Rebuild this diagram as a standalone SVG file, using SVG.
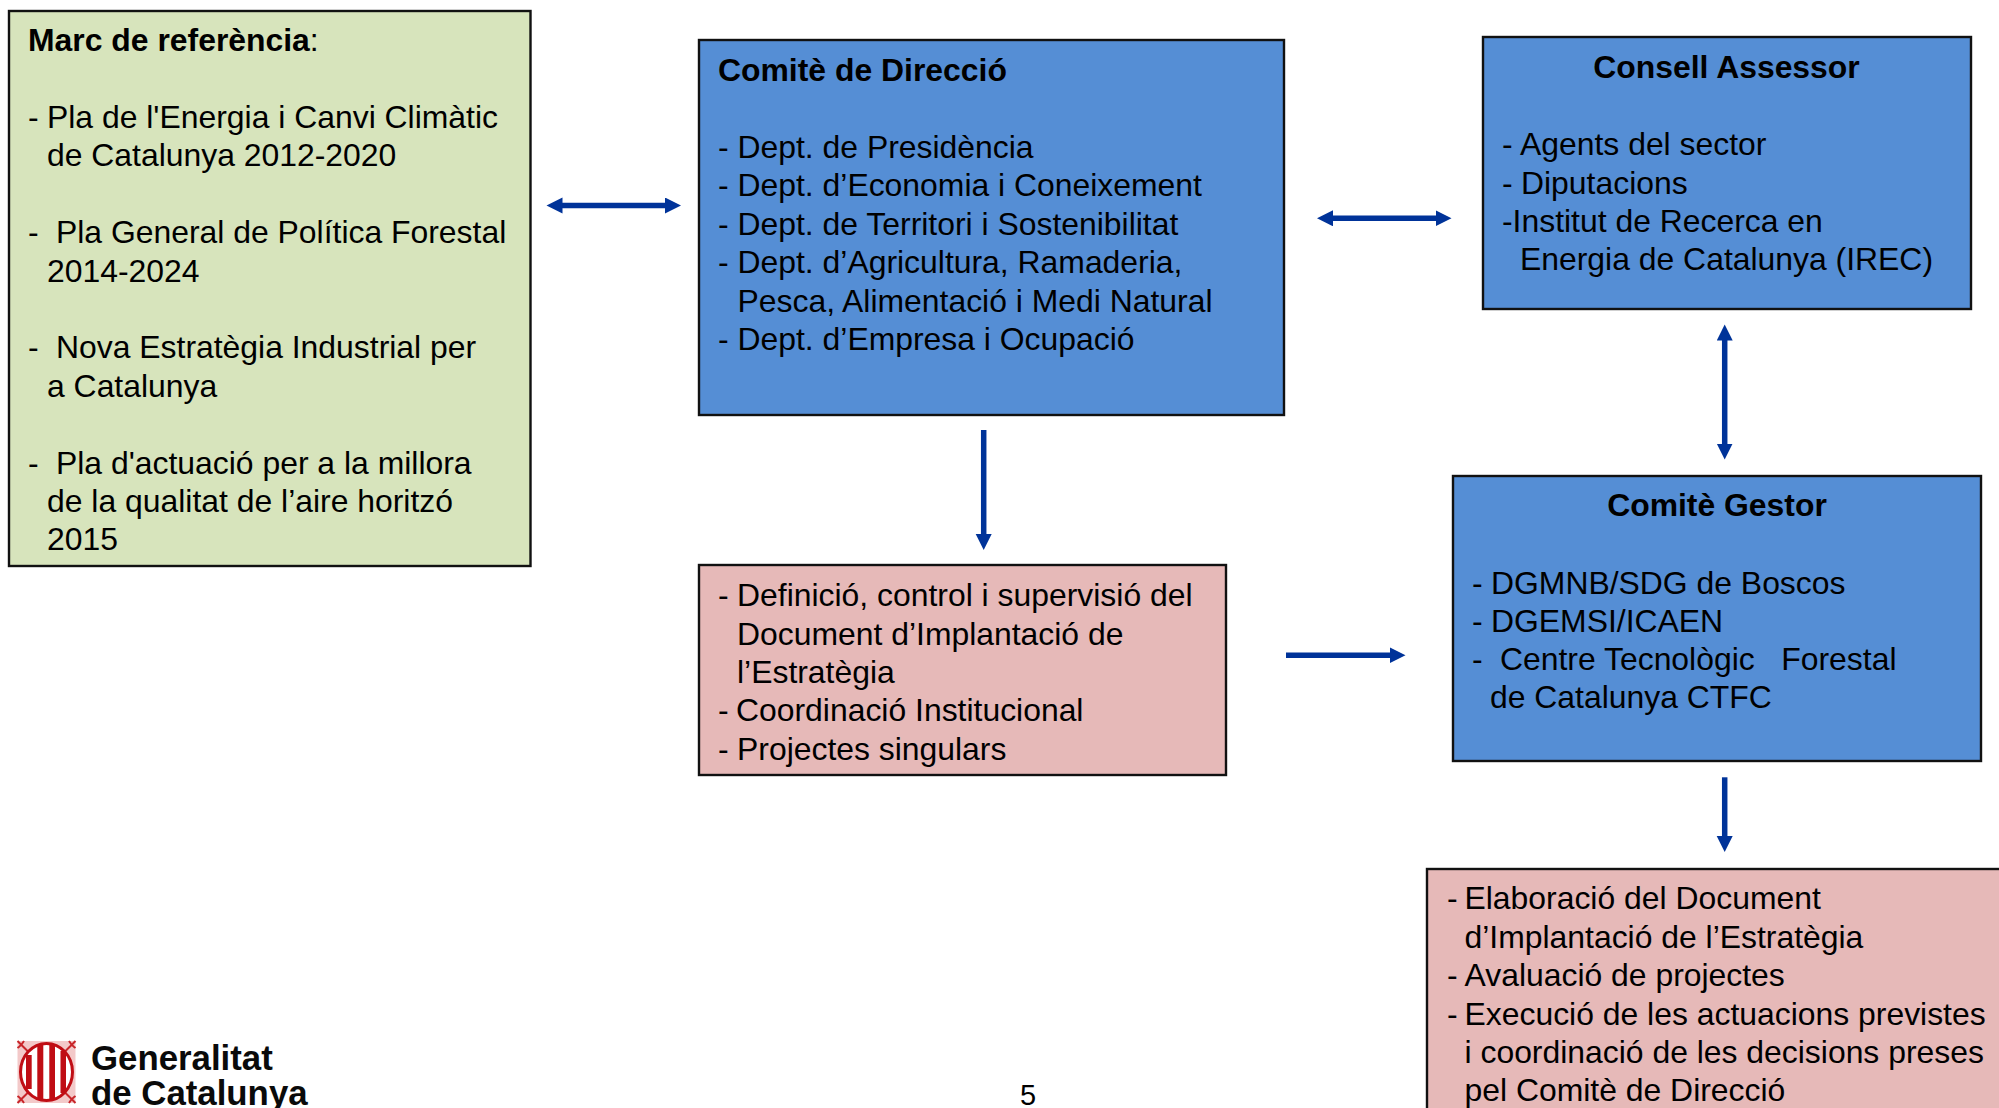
<svg xmlns="http://www.w3.org/2000/svg" width="1999" height="1108" viewBox="0 0 1999 1108">
<style>
text{font-family:"Liberation Sans",Arial,sans-serif;font-size:31.9px;fill:#000}
.b{font-weight:700}
.box{stroke:#111;stroke-width:2.4}
.green{fill:#d7e4bc}.blue{fill:#558ed5}.pink{fill:#e6b9b8}
.c{fill:none;stroke:#003399;stroke-width:5.5}
text.lg{font-weight:700;font-size:34.8px;fill:#0a0a0a}
</style>
<defs>
<marker id="ah" markerUnits="userSpaceOnUse" markerWidth="18" markerHeight="18" refX="1" refY="8" orient="auto-start-reverse"><path d="M0 0L16 8L0 16Z" fill="#003399"/></marker>
</defs>
<rect width="1999" height="1108" fill="#fff"/>
<g id="marc">
<rect class="box green" x="9" y="11" width="521.500" height="555"/>
<text x="28" y="51"><tspan class="b">Marc de referència</tspan>:</text>
<text x="28" y="128">-</text><text x="47" y="128">Pla de l'Energia i Canvi Climàtic</text>
<text x="47" y="166">de Catalunya 2012-2020</text>
<text x="28" y="243">-</text><text x="56" y="243">Pla General de Política Forestal</text>
<text x="47" y="282">2014-2024</text>
<text x="28" y="358">-</text><text x="56" y="358">Nova Estratègia Industrial per</text>
<text x="47" y="397">a Catalunya</text>
<text x="28" y="474">-</text><text x="56" y="474">Pla d'actuació per a la millora</text>
<text x="47" y="512">de la qualitat de l’aire horitzó</text>
<text x="47" y="550">2015</text>
</g>
<g id="direccio">
<rect class="box blue" x="699" y="40" width="585" height="375"/>
<text class="b" x="718" y="81">Comitè de Direcció</text>
<text x="718" y="158">-</text><text x="737.500" y="158">Dept. de Presidència</text>
<text x="718" y="196">-</text><text x="737.500" y="196">Dept. d’Economia i Coneixement</text>
<text x="718" y="235">-</text><text x="737.500" y="235">Dept. de Territori i Sostenibilitat</text>
<text x="718" y="273">-</text><text x="737.500" y="273">Dept. d’Agricultura, Ramaderia,</text>
<text x="737.500" y="312">Pesca, Alimentació i Medi Natural</text>
<text x="718" y="350">-</text><text x="737.500" y="350">Dept. d’Empresa i Ocupació</text>
</g>
<g id="assessor">
<rect class="box blue" x="1483" y="37" width="488" height="272"/>
<text class="b" x="1726.500" y="78" text-anchor="middle">Consell Assessor</text>
<text x="1502" y="155">-</text><text x="1520" y="155">Agents del sector</text>
<text x="1502" y="194">-</text><text x="1521" y="194">Diputacions</text>
<text x="1502" y="232">-Institut de Recerca en</text>
<text x="1520" y="270">Energia de Catalunya (IREC)</text>
</g>
<g id="gestor">
<rect class="box blue" x="1453" y="476" width="528" height="285"/>
<text class="b" x="1717" y="516" text-anchor="middle">Comitè Gestor</text>
<text x="1472" y="593.500">-</text><text x="1491" y="593.500">DGMNB/SDG de Boscos</text>
<text x="1472" y="631.500">-</text><text x="1491" y="631.500">DGEMSI/ICAEN</text>
<text x="1472" y="670">-</text><text x="1500" y="670" xml:space="preserve">Centre Tecnològic   Forestal</text>
<text x="1490" y="708">de Catalunya CTFC</text>
</g>
<g id="funcions-direccio">
<rect class="box pink" x="699" y="565" width="527" height="210"/>
<text x="718" y="606">-</text><text x="737" y="606">Definició, control i supervisió del</text>
<text x="737" y="645">Document d’Implantació de</text>
<text x="737" y="683">l’Estratègia</text>
<text x="718" y="721">-</text><text x="736" y="721">Coordinació Institucional</text>
<text x="718" y="760">-</text><text x="737" y="760">Projectes singulars</text>
</g>
<g id="funcions-gestor">
<rect class="box pink" x="1427" y="869" width="590" height="260"/>
<text x="1447" y="909">-</text><text x="1464.500" y="909">Elaboració del Document</text>
<text x="1464.500" y="948">d’Implantació de l’Estratègia</text>
<text x="1447" y="986">-</text><text x="1464.500" y="986">Avaluació de projectes</text>
<text x="1447" y="1025">-</text><text x="1464.500" y="1025">Execució de les actuacions previstes</text>
<text x="1464.500" y="1063">i coordinació de les decisions preses</text>
<text x="1464.500" y="1101">pel Comitè de Direcció</text>
</g>
<g id="connectors">
<path class="c" d="M561.500 205.500H666" marker-start="url(#ah)" marker-end="url(#ah)"/>
<path class="c" d="M1332 218.300H1436.500" marker-start="url(#ah)" marker-end="url(#ah)"/>
<path class="c" d="M1724.700 339.500V444.500" marker-start="url(#ah)" marker-end="url(#ah)"/>
<path class="c" d="M983.700 430V535" marker-end="url(#ah)"/>
<path class="c" d="M1286 655.300H1390.500" marker-end="url(#ah)"/>
<path class="c" d="M1724.700 777.300V837" marker-end="url(#ah)"/>
</g>
<g id="logo">
<rect x="17.500" y="1041" width="58" height="62" fill="#f3c9c9"/>
<path d="M17.500 1041l14 14M75.500 1041l-14 14M17.500 1103l14-14M75.500 1103l-14-14M24 1041c-3 5-4 5-6.500 7M69 1041c3 5 4 5 6.500 7M24 1103c-3-5-4-5-6.500-7M69 1103c3-5 4-5 6.500-7" fill="none" stroke="#c8262a" stroke-width="2"/>
<ellipse cx="46.500" cy="1072" rx="26" ry="28.500" fill="#fff" stroke="#c00d14" stroke-width="3"/>
<path d="M26 1055h5.700v34h-5.700zM37.300 1044.500h6v55h-6zM49.300 1044.500h5.700v55h-5.700zM60.500 1051h5.500v42h-5.500z" fill="#c00d14"/>
<text class="lg" x="91" y="1070">Generalitat</text>
<text class="lg" x="91" y="1104.500">de Catalunya</text>
</g>
<text id="page" x="1020" y="1105" style="font-size:29px">5</text>
</svg>
